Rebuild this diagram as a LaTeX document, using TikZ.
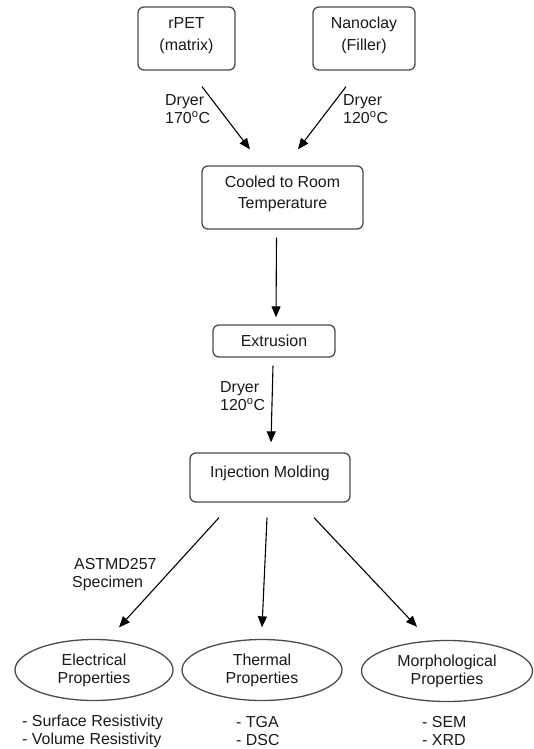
\documentclass[tikz,border=0pt]{standalone}
\usepackage{fontspec}
\setmainfont{Liberation Sans}
\usetikzlibrary{arrows.meta,shapes.geometric}
\tikzset{
    proc/.style={rectangle, rounded corners=6bp, draw=black!70, line width=1.3bp,
                 inner sep=0pt, align=center},
    prop/.style={ellipse, draw=black!70, line width=1.3bp, inner sep=0pt, align=center,
                 minimum height=61bp},
    note/.style={anchor=west, align=left, inner sep=0pt},
    flow/.style={-{Triangle[length=11bp,width=9bp]}, line width=1.1bp}
}

\begin{document}
\begin{tikzpicture}
  [
    x                 = 1bp,
    y                 = -1bp,
    every node/.style = {font=\fontsize{16}{18}\selectfont, text=black!90},
  ]
  \useasboundingbox (0,0) rectangle (534,749);

  % process boxes
  \node [proc, minimum width=97bp, text height=43.7bp, text depth=19.3bp]
    (rpet) at (186.5,38.5) {rPET\\[4bp](matrix)};
  \node [proc, minimum width=102bp, text height=43.7bp, text depth=19.3bp]
    (nano) at (364,38.5) {Nanoclay\\[4bp](Filler)};
  \node [proc, minimum width=161bp, text height=42.7bp, text depth=20.3bp]
    (cool) at (282.5,197.5) {Cooled to Room\\[3bp]Temperature};
  \node [proc, minimum width=122bp, text height=21.7bp, text depth=10.3bp]
    (extr) at (274,341) {Extrusion};
  \node [proc, minimum width=160bp, text height=24.7bp, text depth=24.3bp]
    (inj) at (270,477.5) {Injection Molding};

  % properties
  \node [prop, minimum width=158bp] (elec)  at (94,670)  {Electrical\\Properties};
  \node [prop, minimum width=160bp] (therm) at (262,670) {Thermal\\Properties};
  \node [prop, minimum width=171bp] (morph) at (447,671) {Morphological\\Properties};

  % labels
  \node [note] (dry1) at (165,109) {Dryer\\170\textsuperscript{o}C};
  \node [note] (dry2) at (343,109) {Dryer\\120\textsuperscript{o}C};
  \node [note] (dry3) at (220,396) {Dryer\\120\textsuperscript{o}C};
  \node [note] (astm) at (72,575)  {\hspace*{2bp}ASTMD257\\Specimen};
  \node [note] (list1) at (22,731)  {- Surface Resistivity\\- Volume Resistivity};
  \node [note] (list2) at (236,731) {- TGA\\- DSC};
  \node [note] (list3) at (422,731) {- SEM\\- XRD};

  % connectors
  \draw [flow] ([xshift=15.5bp,yshift=-16bp]rpet.south) -- ([xshift=-32.5bp,yshift=16bp]cool.north);
  \draw [flow] ([xshift=-18bp,yshift=-16bp]nano.south) -- ([xshift=15.5bp,yshift=16bp]cool.north);
  \draw [flow] ([xshift=-6bp,yshift=-8bp]cool.south) -- ([xshift=2bp,yshift=7bp]extr.north);
  \draw [flow] ([xshift=-1bp,yshift=-8bp]extr.south) -- ([xshift=1bp,yshift=10bp]inj.north);
  \draw [flow] ([xshift=-51bp,yshift=-15bp]inj.south) -- ([xshift=25bp,yshift=11.5bp]elec.north);
  \draw [flow] ([xshift=-3bp,yshift=-15bp]inj.south) -- ([yshift=11.5bp]therm.north);
  \draw [flow] ([xshift=44bp,yshift=-15bp]inj.south) -- ([xshift=-30bp,yshift=13bp]morph.north);
\end{tikzpicture}
\end{document}
